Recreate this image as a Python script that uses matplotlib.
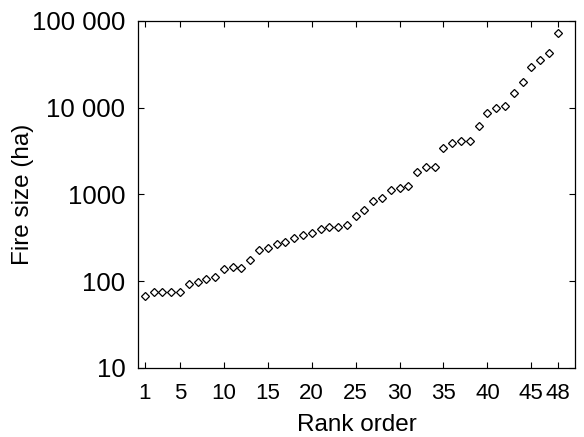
import matplotlib
matplotlib.use("Agg")
import matplotlib.pyplot as plt
from matplotlib.ticker import FixedLocator, NullLocator

plt.rcParams["font.family"] = ["Liberation Sans", "DejaVu Sans"]

rank = list(range(1, 49))
fire_size = [
    68, 75, 76, 76, 76, 93, 97, 106, 111, 137,
    145, 143, 175, 228, 240, 267, 284, 311, 339, 364,
    395, 423, 423, 440, 566, 659, 836, 922, 1122, 1192,
    1247, 1793, 2048, 2080, 3400, 3940, 4150, 4100, 6140, 8600,
    9970, 10500, 14600, 19900, 29700, 35400, 42300, 71900,
]
x_ticks = [1, 5, 10, 15, 20, 25, 30, 35, 40, 45, 48]
y_ticks = [10, 100, 1000, 10000, 100000]
y_tick_labels = ["10", "100", "1000", "10 000", "100 000"]

fig = plt.figure(figsize=(5.84, 4.37), dpi=100)
ax = fig.add_axes([0.236, 0.158, 0.749, 0.794])

ax.plot(rank, fire_size, linestyle="none", marker="D", markersize=4.2,
        markerfacecolor="white", markeredgecolor="black", markeredgewidth=0.9)

ax.set_yscale("log")
ax.set_ylim(10, 100000)
ax.set_xlim(0.2, 50)

ax.xaxis.set_major_locator(FixedLocator(x_ticks))
ax.set_xticklabels([str(t) for t in x_ticks])
ax.yaxis.set_major_locator(FixedLocator(y_ticks))
ax.set_yticklabels(y_tick_labels)
ax.yaxis.set_minor_locator(NullLocator())
ax.xaxis.set_minor_locator(NullLocator())

ax.tick_params(direction="in", top=True, right=True, length=4, width=0.8)
ax.tick_params(axis="y", pad=9, labelsize=18.5)
ax.tick_params(axis="x", pad=11, labelsize=16)
for s in ax.spines.values():
    s.set_linewidth(0.9)

ax.set_xlabel("Rank order", fontsize=17.5, labelpad=7)
ax.set_ylabel("Fire size (ha)", fontsize=17.5)
ax.yaxis.set_label_coords(-0.238, 0.5)

fig.savefig("out.png", dpi=100)
